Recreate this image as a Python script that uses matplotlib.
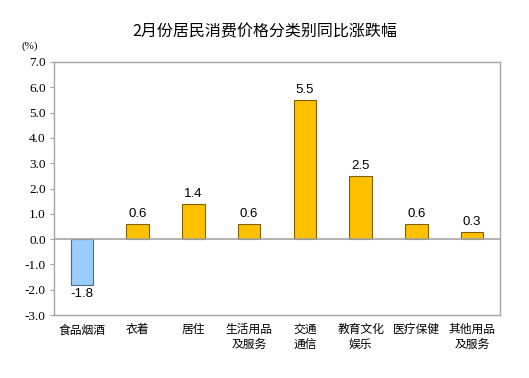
import numpy as np
import matplotlib
matplotlib.use('Agg')
import matplotlib.pyplot as plt

plt.rcParams['font.family'] = ['Noto Sans CJK SC', 'DejaVu Sans']

# 分类及同比涨跌幅
categories = ['食品烟酒', '衣着', '居住', '生活用品\n及服务', '交通\n通信',
              '教育文化\n娱乐', '医疗保健', '其他用品\n及服务']
values = [-1.8, 0.6, 1.4, 0.6, 5.5, 2.5, 0.6, 0.3]
yticks = [-3.0, -2.0, -1.0, 0.0, 1.0, 2.0, 3.0, 4.0, 5.0, 6.0, 7.0]

fig = plt.figure(figsize=(5.29, 3.78), dpi=100)
ax = fig.add_axes([54 / 529, 1 - 315 / 378, 446 / 529, 253 / 378])

x = np.arange(len(categories))
colors = ['#99CCFF' if v < 0 else '#FFC000' for v in values]
edges = ['#4F6A85' if v < 0 else '#7F6000' for v in values]
ax.bar(x, values, width=0.4, color=colors, edgecolor=edges, linewidth=0.8, zorder=3)

ax.set_xlim(-0.5, len(categories) - 0.5)
ax.set_ylim(-3.0, 7.0)
ax.set_yticks(yticks)
ax.set_yticklabels(['%.1f' % t for t in yticks], family='Liberation Serif', fontsize=9.5)
ax.set_xticks(x)
ax.set_xticklabels(categories, fontsize=8.5, linespacing=1.2)
ax.tick_params(axis='x', length=0, pad=6)
ax.tick_params(axis='y', length=3, color='#A0A0A0', pad=3)

for s in ax.spines.values():
    s.set_color('#A6A6A6')
    s.set_linewidth(1.0)
ax.axhline(0, color='#A6A6A6', linewidth=1.2, zorder=4)

for xi, v in zip(x, values):
    off = 0.15 if v >= 0 else -0.15
    ax.text(xi, v + off, '%.1f' % v, ha='center', va='bottom' if v >= 0 else 'top',
            family='Liberation Sans', fontsize=9.5)

fig.text(0.5, 1 - 32 / 378, '2月份居民消费价格分类别同比涨跌幅', ha='center', va='center', fontsize=11.5)
fig.text(30 / 529, 1 - 46 / 378, '(%)', ha='center', va='center', family='Liberation Serif', fontsize=8)

fig.savefig('out.png', dpi=100)
